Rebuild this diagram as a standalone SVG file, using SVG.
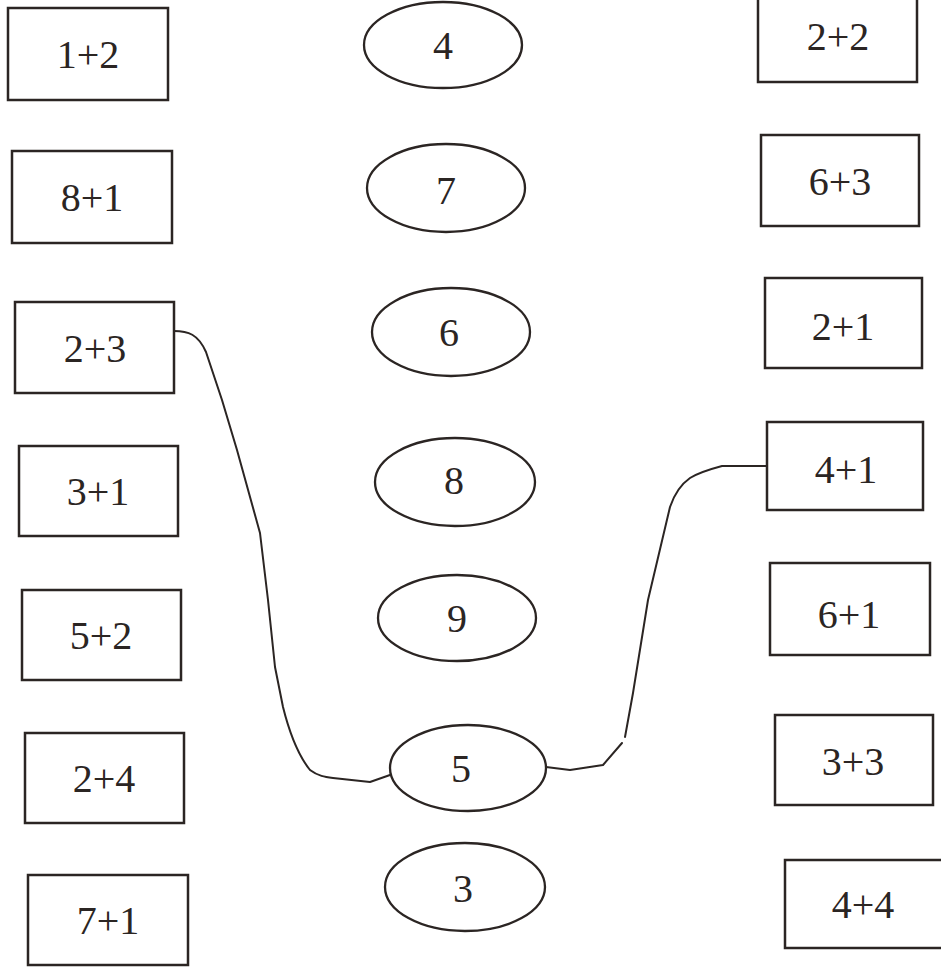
<svg xmlns="http://www.w3.org/2000/svg" width="941" height="969" viewBox="0 0 941 969">
<style>
.box{fill:none;stroke:#2b2523;stroke-width:2.5}
.ov{fill:none;stroke:#2b2523;stroke-width:2.3}
.t{font-family:"Liberation Serif","DejaVu Serif",serif;font-size:40px;fill:#2b2523;text-anchor:middle}
.c{fill:none;stroke:#2b2523;stroke-width:2;stroke-linejoin:round;stroke-linecap:round}
</style>
<rect width="941" height="969" fill="#ffffff"/>
<g id="left">
<g id="l1"><rect class="box" x="8" y="8" width="160" height="92"/><text class="t" x="88" y="68">1+2</text></g>
<g id="l2"><rect class="box" x="12" y="151" width="160" height="92"/><text class="t" x="92" y="211">8+1</text></g>
<g id="l3"><rect class="box" x="15" y="302" width="159" height="91"/><text class="t" x="95" y="362">2+3</text></g>
<g id="l4"><rect class="box" x="19" y="446" width="159" height="90"/><text class="t" x="98" y="505">3+1</text></g>
<g id="l5"><rect class="box" x="22" y="590" width="159" height="90"/><text class="t" x="101" y="649">5+2</text></g>
<g id="l6"><rect class="box" x="25" y="733" width="159" height="90"/><text class="t" x="104" y="792">2+4</text></g>
<g id="l7"><rect class="box" x="28" y="875" width="160" height="90"/><text class="t" x="108" y="934">7+1</text></g>
</g>
<g id="middle">
<g id="m4"><ellipse class="ov" cx="443" cy="45" rx="79" ry="43"/><text class="t" x="443" y="59">4</text></g>
<g id="m7"><ellipse class="ov" cx="446" cy="188" rx="79" ry="44"/><text class="t" x="446" y="204">7</text></g>
<g id="m6"><ellipse class="ov" cx="451" cy="332" rx="79" ry="44"/><text class="t" x="449" y="346">6</text></g>
<g id="m8"><ellipse class="ov" cx="455" cy="482" rx="80" ry="44"/><text class="t" x="454" y="494">8</text></g>
<g id="m9"><ellipse class="ov" cx="457" cy="618" rx="79" ry="43"/><text class="t" x="457" y="632">9</text></g>
<g id="m5"><ellipse class="ov" cx="468" cy="768" rx="78" ry="43"/><text class="t" x="461" y="782">5</text></g>
<g id="m3"><ellipse class="ov" cx="465" cy="887" rx="80" ry="44"/><text class="t" x="463" y="902">3</text></g>
</g>
<g id="right">
<g id="r1"><rect class="box" x="758" y="-5" width="159" height="87"/><text class="t" x="838" y="50">2+2</text></g>
<g id="r2"><rect class="box" x="761" y="135" width="158" height="91"/><text class="t" x="840" y="195">6+3</text></g>
<g id="r3"><rect class="box" x="765" y="278" width="157" height="90"/><text class="t" x="843" y="340">2+1</text></g>
<g id="r4"><rect class="box" x="767" y="422" width="156" height="88"/><text class="t" x="846" y="483">4+1</text></g>
<g id="r5"><rect class="box" x="770" y="563" width="160" height="92"/><text class="t" x="849" y="628">6+1</text></g>
<g id="r6"><rect class="box" x="775" y="715" width="158" height="90"/><text class="t" x="853" y="775">3+3</text></g>
<g id="r7"><rect class="box" x="785" y="860" width="160" height="88"/><text class="t" x="863" y="918">4+4</text></g>
</g>
<g id="connectors">
<path class="c" d="M174,331 C188,331 198,334 206,352 L222,400 L237,450 L260,533 L268,600 L275,667 L283,707 C290,735 298,755 310,770 C318,776 325,777 333,778 L370,782 L390,775"/>
<path class="c" d="M546,767 L570,770 L603,765 L622,743 M625,737 L633,693 L648,600 L670,507 C674,495 680,485 690,478 C698,473 707,470 722,466 L767,466"/>
</g>
</svg>
